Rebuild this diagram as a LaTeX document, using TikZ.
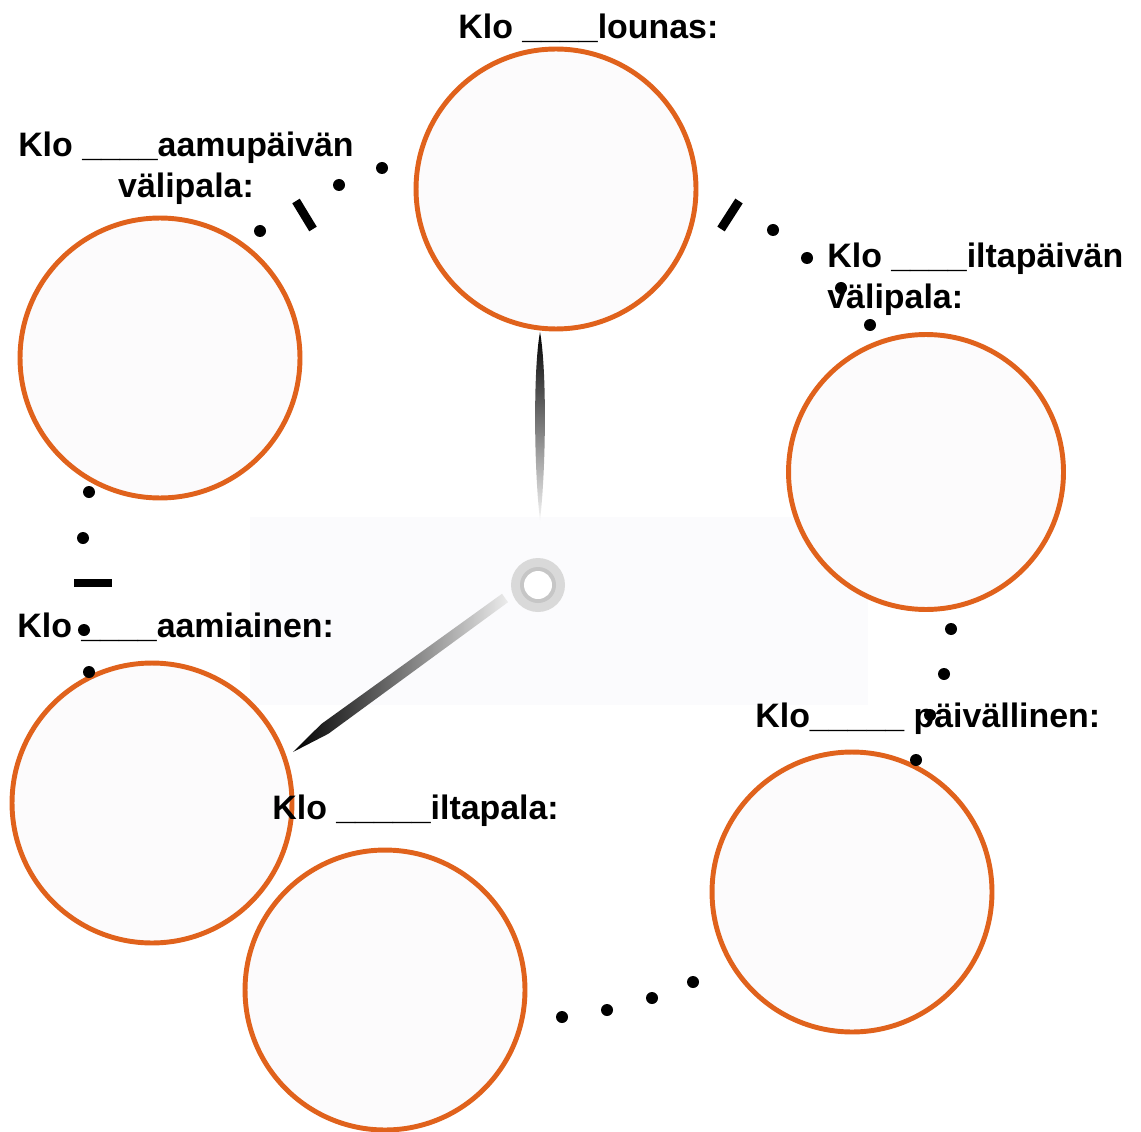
\documentclass[tikz,border=0pt]{standalone}
\usepackage{fontspec}
\setmainfont{Liberation Sans}
\usepackage{xcolor}
\usepackage{tikz}
\definecolor{mealorange}{RGB}{224,98,28}
\definecolor{platefill}{RGB}{252,251,252}
\definecolor{facefill}{RGB}{251,251,253}

\begin{document}
\begin{tikzpicture}[x=0.02cm, y=-0.02cm,
	plate/.style={circle, draw=mealorange, line width=2.8pt, fill=platefill, minimum size=5.6cm, inner sep=0pt},
	meal/.style={font=\fontsize{19.3}{23.2}\selectfont\bfseries, inner sep=0pt},
	tickmark/.style={line width=5pt}]
			\useasboundingbox (0,0) rectangle (1141,1131);
			\fill[white] (0,0) rectangle (1141,1131);
			\fill[facefill] (250,517) rectangle (868,705);
			\node[plate] (lounas) at (556,189) {};
			\node[plate] (aamupaiva) at (160,358) {};
			\node[plate, minimum size=5.5cm] (iltapaiva) at (926,472) {};
			\node[plate] (aamiainen) at (152,803) {};
			\node[plate] (paivallinen) at (852,892) {};
			\node[plate] (iltapala) at (385,990) {};
			\node[meal, anchor=base west] (lounasteksti) at (458,39) {Klo \_\_\_\_lounas:};
			\node[meal, anchor=north, align=center] (aamupaivateksti) at (186,132) {Klo \_\_\_\_aamupäivän\\välipala:};
			\node[meal, anchor=north west, align=left] (iltapaivateksti) at (827,243) {Klo \_\_\_\_iltapäivän\\välipala:};
			\node[meal, anchor=base west] (aamiainenteksti) at (17,637) {Klo \_\_\_\_aamiainen:};
			\node[meal, anchor=base west] (paivallinenteksti) at (755,727) {Klo\_\_\_\_\_ päivällinen:};
			\node[meal, anchor=base west] (iltapalateksti) at (272,819) {Klo \_\_\_\_\_iltapala:};
			\fill (382,168) circle (6);
			\fill (339,185) circle (6);
			\fill (260,231) circle (6);
			\draw[tickmark] (296,201) -- (313,229);
			\draw[tickmark] (721,229) -- (739,201);
			\fill (773,230) circle (6);
			\fill (807,258) circle (6);
			\fill (841,288) circle (6);
			\fill (870,325) circle (6);
			\fill (951,629) circle (6);
			\fill (944,674) circle (6);
			\fill (930,715) circle (6);
			\fill (916,760) circle (6);
			\fill (693,982) circle (6);
			\fill (652,998) circle (6);
			\fill (607,1010) circle (6);
			\fill (562,1017) circle (6);
			\fill (89,492) circle (6);
			\fill (83,538) circle (6);
			\draw[tickmark] (74,583) -- (112,583);
			\fill (84,630) circle (6);
			\fill (89,672) circle (6);
			\shade[top color=black, bottom color=gray!8] (540,332) .. controls (547,370) and (546,470) .. (540,520) .. controls (534,470) and (533,370) .. (540,332);
			\shade[left color=black, right color=gray!15] (293,752) -- (328.3,733.8) -- (508,602.2) -- (502,593.8) -- (321.3,724.0) -- cycle;
			\fill[gray!30] (538,585) circle (27);
			\fill[gray!45] (538,585) circle (18);
			\fill[white] (538,585) circle (14);
		\end{tikzpicture}
\end{document}
